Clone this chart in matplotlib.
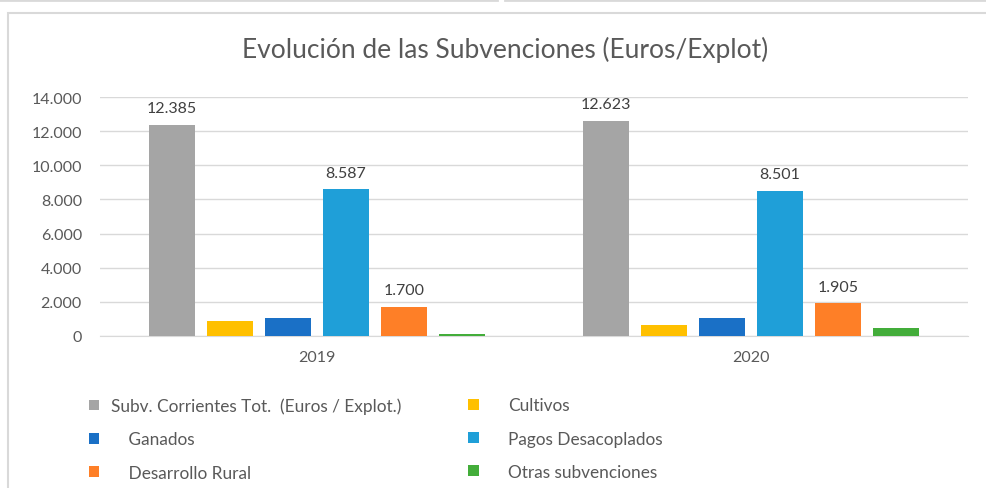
import matplotlib.pyplot as plt
import numpy as np
from matplotlib.patches import Rectangle
from matplotlib.lines import Line2D

plt.rcParams['font.family'] = ['Lato', 'DejaVu Sans']

years = ["2019", "2020"]
series = [
    "Subv. Corrientes Tot.  (Euros / Explot.)",
    "Cultivos",
    "    Ganados",
    "Pagos Desacoplados",
    "    Desarrollo Rural",
    "Otras subvenciones",
]
subv_total = [12385, 12623]
cultivos = [900, 640]
ganados = [1050, 1050]
pagos_desac = [8587, 8501]
desarrollo = [1700, 1905]
otras = [100, 470]
values = [subv_total, cultivos, ganados, pagos_desac, desarrollo, otras]
labelled = [0, 3, 4]
colors = ["#a5a5a5", "#ffc000", "#1a70c6", "#1f9fd8", "#fe7f27", "#43ad3a"]
yticks = [0, 2000, 4000, 6000, 8000, 10000, 12000, 14000]

fig = plt.figure(figsize=(9.87, 4.89), dpi=100)
ax = fig.add_axes([100 / 987, 1 - 337 / 489, 868 / 987, 239 / 489])

x = np.arange(len(years))
slot = 0.1336
width = 0.106
for i, (name, vals) in enumerate(zip(series, values)):
    pos = x + (i - 2.5) * slot
    bars = ax.bar(pos, vals, width, color=colors[i], label=name, zorder=3)
    if i in labelled:
        for b, v in zip(bars, vals):
            ax.annotate(f"{v:,}".replace(",", "."), (b.get_x() + b.get_width() / 2, v),
                        xytext=(0, 7), textcoords="offset points", ha="center", va="bottom",
                        fontsize=11.5, color="#404040")

ax.set_xlim(-0.5, 1.5)
ax.set_ylim(0, 14000)
ax.set_yticks(yticks)
ax.set_yticklabels([f"{t:,}".replace(",", ".") for t in yticks])
ax.set_xticks(x)
ax.set_xticklabels(years)
ax.tick_params(length=0, labelsize=11.5, colors="#595959")
ax.tick_params(axis="y", pad=13)
ax.tick_params(axis="x", pad=10)
ax.grid(axis="y", color="#d9d9d9", linewidth=1, zorder=0)
for s in ["top", "right", "left"]:
    ax.spines[s].set_visible(False)
ax.spines["bottom"].set_color("#d9d9d9")

fig.text(505 / 987, 1 - 50 / 489, "Evolución de las Subvenciones (Euros/Explot)",
         ha="center", va="center", fontsize=19, color="#595959")

# two legend columns, drawn separately so each can have its own text gap
handles, labs = ax.get_legend_handles_labels()
leg_kw = dict(loc="upper left", frameon=False, fontsize=12.4, labelcolor="#595959",
              handlelength=0.6, handleheight=0.6, labelspacing=1.0)
fig.legend([handles[k] for k in (0, 2, 4)], [labs[k] for k in (0, 2, 4)],
           bbox_to_anchor=(73 / 987, 1 - 383 / 489), handletextpad=0.7, **leg_kw)
fig.legend([handles[k] for k in (1, 3, 5)], [labs[k] for k in (1, 3, 5)],
           bbox_to_anchor=(453 / 987, 1 - 383 / 489), handletextpad=1.7, **leg_kw)

# outer chart frame
fig.patches.append(Rectangle((8 / 987, -0.01), 1.0, 1 - 14 / 489 + 0.01, transform=fig.transFigure,
                             fill=False, edgecolor="#d9d9d9", linewidth=1.5))
fig.lines.append(Line2D([0, 497 / 987], [1 - 1 / 489] * 2, transform=fig.transFigure,
                        color="#d9d9d9", linewidth=2))
fig.lines.append(Line2D([505 / 987, 1], [1 - 1 / 489] * 2, transform=fig.transFigure,
                        color="#d9d9d9", linewidth=2))

fig.savefig("out.png", dpi=100)
